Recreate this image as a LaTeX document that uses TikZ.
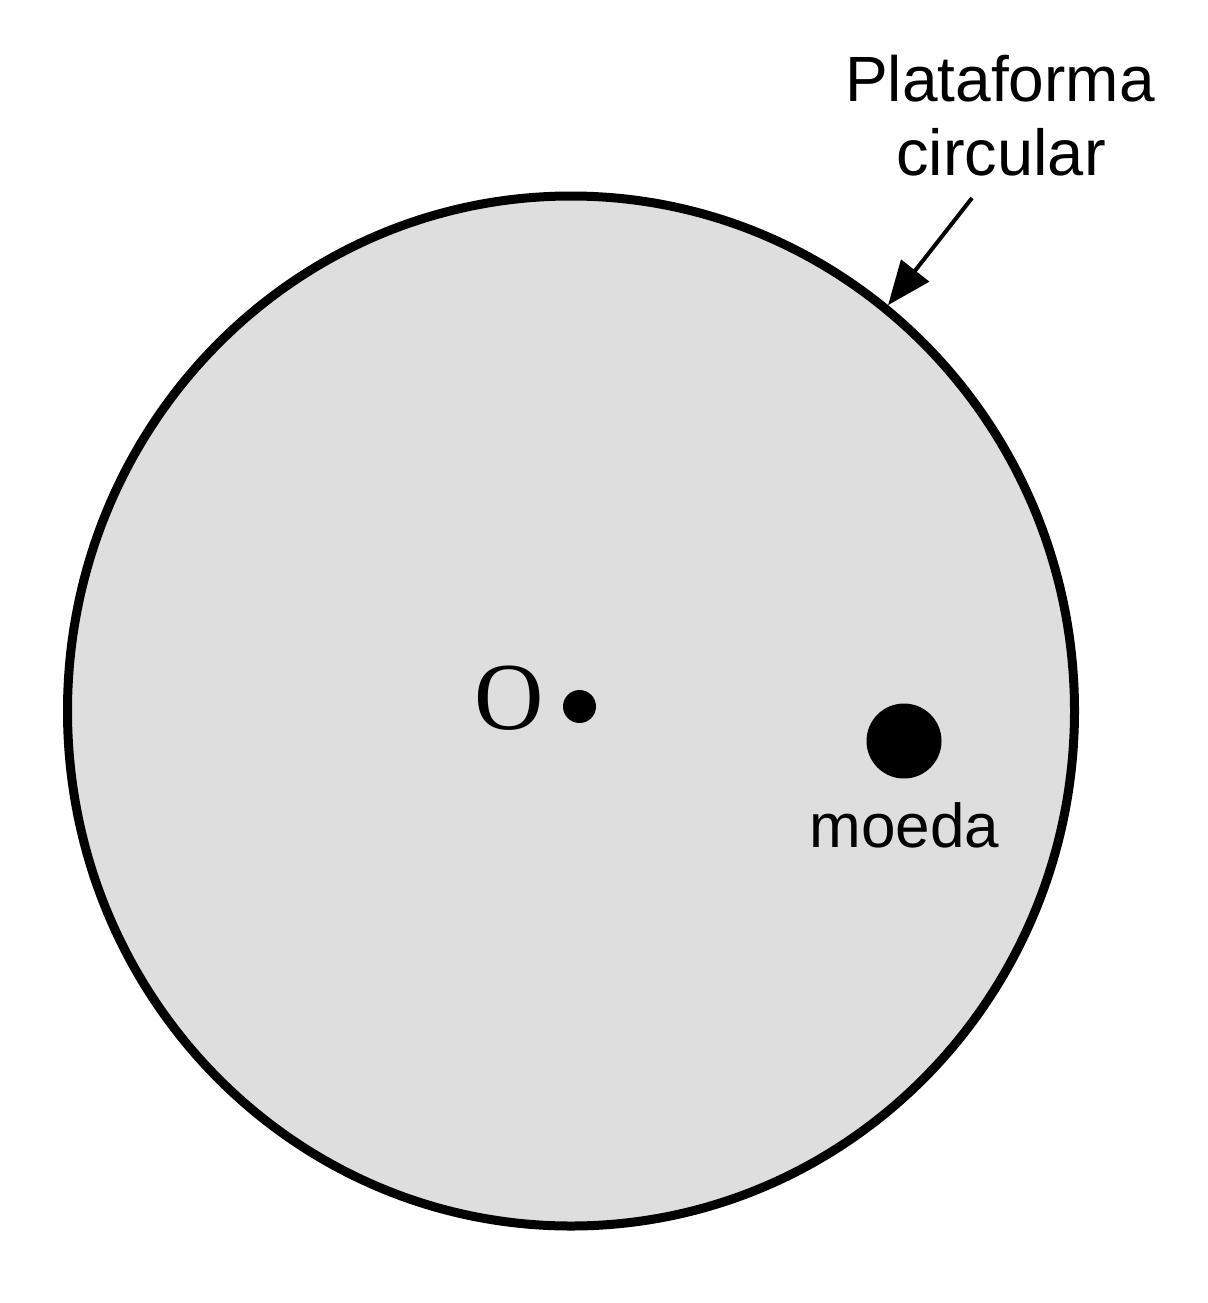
\documentclass[tikz,border=0pt]{standalone}
\usepackage{fontspec}
\setmainfont{Liberation Sans}
\newfontfamily\serifO{Liberation Serif}
\usetikzlibrary{shapes.geometric,arrows.meta}
\definecolor{platgray}{RGB}{222,222,222}
\tikzset{
  platform/.style={ellipse, draw=black, fill=platgray, line width=9pt, inner sep=0pt,
    minimum width=1007pt, minimum height=1030pt},
  dotnode/.style={circle, fill=black, inner sep=0pt, minimum size=#1},
  label/.style={anchor=base, inner sep=0pt, font=\fontsize{#1}{#1}\selectfont},
  pointer/.style={line width=4pt, -{Triangle[length=44pt,width=35pt]}}
}
\begin{document}
\begin{tikzpicture}[x=1pt,y=-1pt]
\useasboundingbox (0,0) rectangle (1207,1303);
\node[platform] (plat) at (571,711) {};
\node[dotnode=33pt] (center) at (579.5,706.5) {};
\node[label=96, font=\fontsize{96}{96}\serifO] (O) at (509,729) {O};
\node[dotnode=75pt] (coin) at (904,741) {};
\node[label=62] (moeda) at (904.5,847) {moeda};
\node[label=64] (t1) at (1000,102) {Plataforma};
\node[label=65] (t2) at (1001,175) {circular};
\coordinate (arrstart) at (972,198);
\draw[pointer] (arrstart) -- (plat.52.2);
\end{tikzpicture}
\end{document}
